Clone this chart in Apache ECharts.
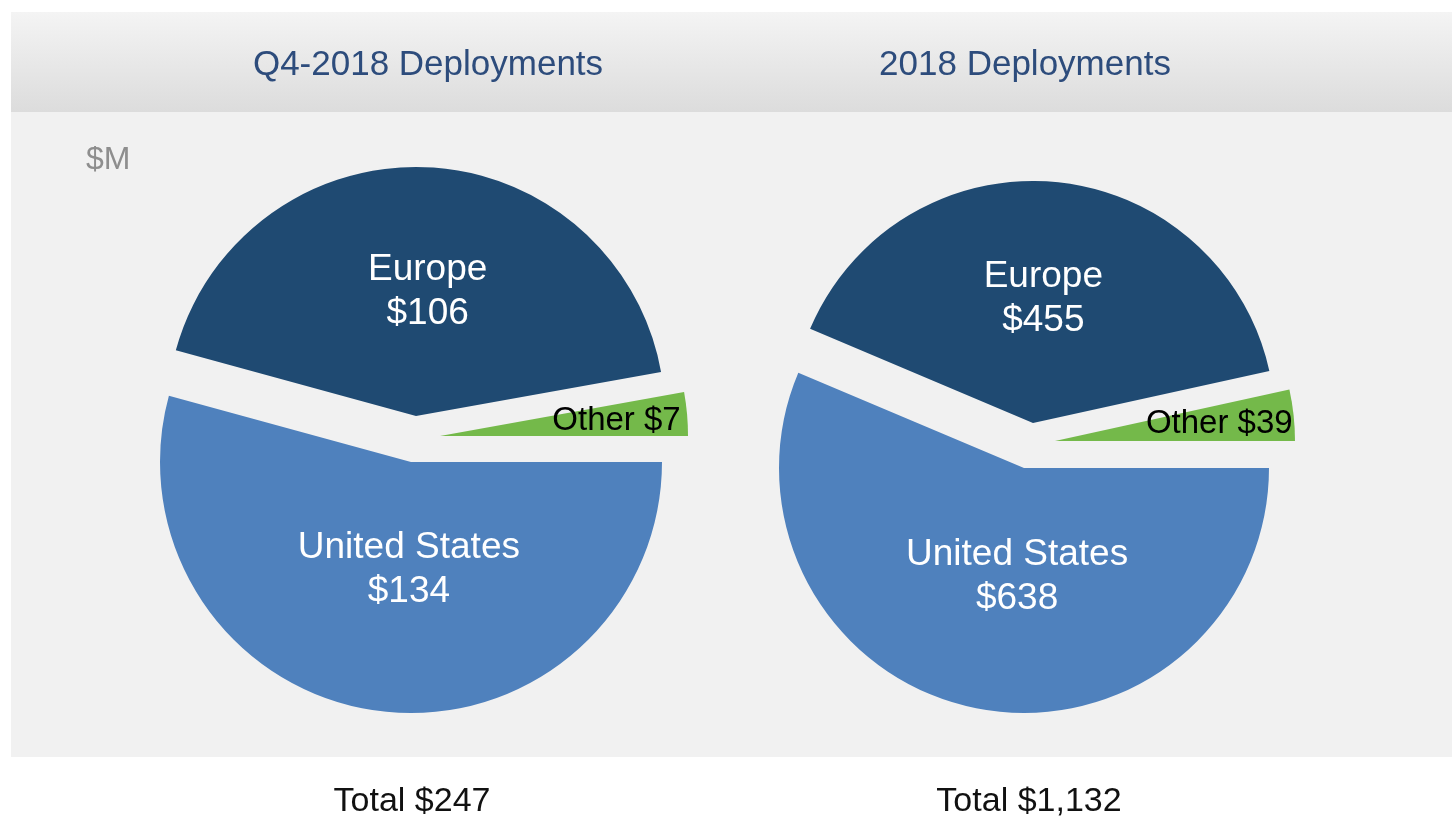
<!DOCTYPE html>
<html>
<head>
<meta charset="utf-8">
<title>Deployments</title>
<script src="https://cdn.jsdelivr.net/npm/echarts@6/dist/echarts.min.js"></script>
<style>
  html, body { margin: 0; padding: 0; background: #fff; }
  #chart { width: 1452px; height: 818px; }
</style>
</head>
<body>
<div id="chart"></div>
<script>
// data ($M)
const regions = ['United States', 'Europe', 'Other']
const q4Values = [134, 106, 7]
const yearValues = [638, 455, 39]
const pieTitles = ['Q4-2018 Deployments', '2018 Deployments']
const unitLabel = '$M'

const sliceColors = ['#4f81bd', '#1f4a72', '#74b94a']
const labelColors = ['#ffffff', '#ffffff', '#000000']
const font = 'Liberation Sans, Arial, sans-serif'

// each slice is pulled out on its own, so every slice gets its own centre
const pieLayout = [
  {
    cx: 428,
    totalX: 412,
    centers: [[411, 462], [416, 416], [440, 436]],
    radii: [251, 249, 248],
    labelShift: [[15, -20], [6, 3], [50, -4]]
  },
  {
    cx: 1025,
    totalX: 1029,
    centers: [[1024, 468], [1033, 423], [1055, 441]],
    radii: [245, 242, 240],
    labelShift: [[18, -14], [-1, -1], [42, -4]]
  }
]

function money(v) {
  return '$' + v.toLocaleString('en-US')
}

function sliceSeries(values, layout, k) {
  return {
    type: 'pie',
    center: layout.centers[k],
    radius: [0, layout.radii[k]],
    startAngle: 0,
    clockwise: true,
    silent: true,
    animation: false,
    avoidLabelOverlap: false,
    labelLine: {show: false},
    labelLayout: {dx: layout.labelShift[k][0], dy: layout.labelShift[k][1]},
    label: {
      position: 'inside',
      color: labelColors[k],
      fontFamily: font,
      fontSize: k === 2 ? 33 : 37,
      lineHeight: 44,
      textBorderWidth: 0,
      formatter: p => k === 2 ? p.name + ' ' + money(p.value) : p.name + '\n' + money(p.value)
    },
    data: regions.map((name, i) => ({
      name: name,
      value: values[i],
      itemStyle: {color: i === k ? sliceColors[i] : 'rgba(0,0,0,0)', borderWidth: 0},
      label: {show: i === k}
    }))
  }
}

const allValues = [q4Values, yearValues]
const series = []
allValues.forEach((values, p) => {
  for (let k = 0; k < regions.length; k++) {
    series.push(sliceSeries(values, pieLayout[p], k))
  }
})

const titles = []
pieTitles.forEach((t, p) => {
  titles.push({
    text: t, left: pieLayout[p].cx, top: 65, padding: 0,
    textAlign: 'center', textVerticalAlign: 'middle',
    textStyle: {color: '#2d4c7c', fontSize: 35, fontWeight: 'normal', fontFamily: font}
  })
  const total = allValues[p].reduce((a, b) => a + b, 0)
  titles.push({
    text: 'Total ' + money(total), left: pieLayout[p].totalX, top: 802, padding: 0,
    textAlign: 'center', textVerticalAlign: 'middle',
    textStyle: {color: '#111111', fontSize: 34, fontWeight: 'normal', fontFamily: font}
  })
})
titles.push({
  text: unitLabel, left: 86, top: 160, padding: 0,
  textAlign: 'left', textVerticalAlign: 'middle',
  textStyle: {color: '#8e8e8e', fontSize: 32, fontWeight: 'normal', fontFamily: font}
})

const chart = echarts.init(document.getElementById('chart'))
chart.setOption({
  backgroundColor: '#ffffff',
  animation: false,
  title: titles,
  graphic: [
    {
      type: 'rect', z: -10,
      shape: {x: 11, y: 12, width: 1441, height: 745},
      style: {fill: '#f1f1f1'}
    },
    {
      type: 'rect', z: -9,
      shape: {x: 11, y: 12, width: 1441, height: 100},
      style: {
        fill: new echarts.graphic.LinearGradient(0, 0, 0, 1, [
          {offset: 0, color: '#f4f4f4'},
          {offset: 1, color: '#dcdcdc'}
        ])
      }
    }
  ],
  series: series
})
</script>
</body>
</html>
